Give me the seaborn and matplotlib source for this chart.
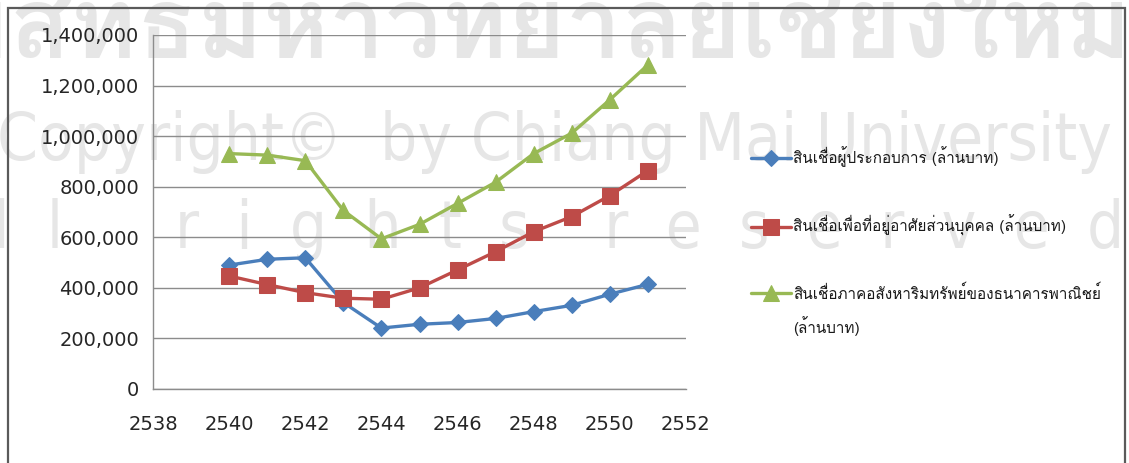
import numpy as np
import pandas as pd
import matplotlib
matplotlib.use("Agg")
import matplotlib.pyplot as plt
import seaborn as sns
from matplotlib import font_manager as fm
from matplotlib.ft2font import FT2Font
from matplotlib.ticker import FuncFormatter
from matplotlib.patches import Rectangle

# ---------------- data ----------------
years = [2540, 2541, 2542, 2543, 2544, 2545, 2546, 2547, 2548, 2549, 2550, 2551]
entrepreneur_loans = [490000, 513000, 519000, 342000, 241000, 256000, 263000, 279000, 306000, 331000, 375000, 414000]
housing_loans = [447000, 413000, 381000, 359000, 355000, 400000, 471000, 543000, 622000, 682000, 765000, 864000]
realestate_loans = [931000, 925000, 903000, 706000, 594000, 651000, 734000, 818000, 931000, 1012000, 1144000, 1282000]

series_names = [
    "สินเชื่อผู้ประกอบการ (ล้านบาท)",
    "สินเชื่อเพื่อที่อยู่อาศัยส่วนบุคคล (ล้านบาท)",
    "สินเชื่อภาคอสังหาริมทรัพย์ของธนาคารพาณิชย์",
]
name_suffix_line = "(ล้านบาท)"
x_ticks = [2538, 2540, 2542, 2544, 2546, 2548, 2550, 2552]
y_ticks = [0, 200000, 400000, 600000, 800000, 1000000, 1200000, 1400000]

# ---------------- fonts ----------------
def find_font(ch):
    for f in fm.fontManager.ttflist:
        try:
            ft = FT2Font(f.fname)
            if ord(ch) in ft.get_charmap():
                return f
        except Exception:
            pass
    return None

tf = find_font("ส")
thai_font = tf.name if tf else "DejaVu Sans"

narrow_prop = None
for f in fm.fontManager.ttflist:
    nm = (f.name + " " + str(f.fname)).lower()
    low = str(f.fname).lower()
    if ("narrow" in nm or "condensed" in nm) and "bold" not in low \
            and "italic" not in low and "oblique" not in low:
        narrow_prop = fm.FontProperties(fname=f.fname)
        break
if narrow_prop is None:
    narrow_prop = fm.FontProperties(family="DejaVu Sans")

sns.set_theme(style="white")
plt.rcParams["font.family"] = ["DejaVu Sans"]

W, H = 1129, 463
fig = plt.figure(figsize=(W / 100, H / 100), dpi=100)
fig.patch.set_facecolor("white")

# watermark (light, behind everything)
wm_col = "#e6e6e6"
fig.text(1132 / W, 1 - 58 / H, "ลิขสิทธิ์มหาวิทยาลัยเชียงใหม่", ha="right", va="baseline",
         fontsize=72, fontweight="bold", color=wm_col, family=[thai_font, "DejaVu Sans"], zorder=-5)
p1 = narrow_prop.copy(); p1.set_size(47)
fig.text(1112 / W, 1 - 160 / H, "Copyright©  by Chiang Mai University", ha="right", va="baseline",
         fontproperties=p1, color=wm_col, zorder=-5)
fig.text(1124 / W, 1 - 248 / H,
         "A  l  l      r  i  g  h  t  s    r  e  s  e  r  v  e  d",
         ha="right", va="baseline", fontproperties=p1, color=wm_col, zorder=-5)

# chart area frame
fig.patches.append(Rectangle((8 / W, -0.05), (1125 - 8) / W, 1.05 - 8 / H,
                             transform=fig.transFigure, fill=False,
                             edgecolor="#5a5a5a", linewidth=1.6, zorder=5))

ax = fig.add_axes([153 / W, 1 - 389 / H, (686 - 153) / W, (389 - 35) / H])
ax.set_facecolor("none")

df = pd.DataFrame({
    "year": years * 3,
    "value": entrepreneur_loans + housing_loans + realestate_loans,
    "series": [series_names[0]] * len(years) + [series_names[1]] * len(years) + [series_names[2]] * len(years),
})

styles = [
    (series_names[0], "#4a7ebb", "D", 8),
    (series_names[1], "#be4b48", "s", 11),
    (series_names[2], "#98b954", "^", 11),
]
for name, col, mk, ms in styles:
    sub = df[df["series"] == name]
    sns.lineplot(data=sub, x="year", y="value", ax=ax, color=col, marker=mk,
                 markersize=ms, markeredgecolor=col, linewidth=2.4, label=name,
                 zorder=3)

ax.set_xlim(2538, 2552)
ax.set_ylim(0, 1400000)
ax.set_xticks(x_ticks)
ax.set_yticks(y_ticks)
ax.yaxis.set_major_formatter(FuncFormatter(lambda v, p: f"{int(v):,}"))
ax.set_xlabel("")
ax.set_ylabel("")
ax.grid(axis="y", color="#8c8c8c", linewidth=1.0)
ax.grid(axis="x", visible=False)
for s in ["top", "right"]:
    ax.spines[s].set_visible(False)
for s in ["left", "bottom"]:
    ax.spines[s].set_color("#8c8c8c")
    ax.spines[s].set_linewidth(1.0)
ax.tick_params(axis="both", direction="out", length=6, width=1.0, color="#8c8c8c",
               labelsize=14, labelcolor="#262626", pad=4)
ax.tick_params(axis="x", pad=13)
ax.set_axisbelow(True)

leg = ax.legend(loc="upper left", bbox_to_anchor=(745 / W, 1 - 140 / H),
                bbox_transform=fig.transFigure, frameon=False, handlelength=2.6,
                handletextpad=0.15, labelspacing=3.15, borderaxespad=0,
                prop={"family": [thai_font, "DejaVu Sans"], "size": 11})
for t in leg.get_texts():
    t.set_color("#1a1a1a")

fig.canvas.draw()
last = leg.get_texts()[-1]
bb = last.get_window_extent(renderer=fig.canvas.get_renderer())
fig.text(bb.x0 / W, (bb.y0 - 14) / H, name_suffix_line, ha="left", va="top",
         fontsize=11, color="#1a1a1a", family=[thai_font, "DejaVu Sans"])

fig.savefig("out.png", dpi=100)
